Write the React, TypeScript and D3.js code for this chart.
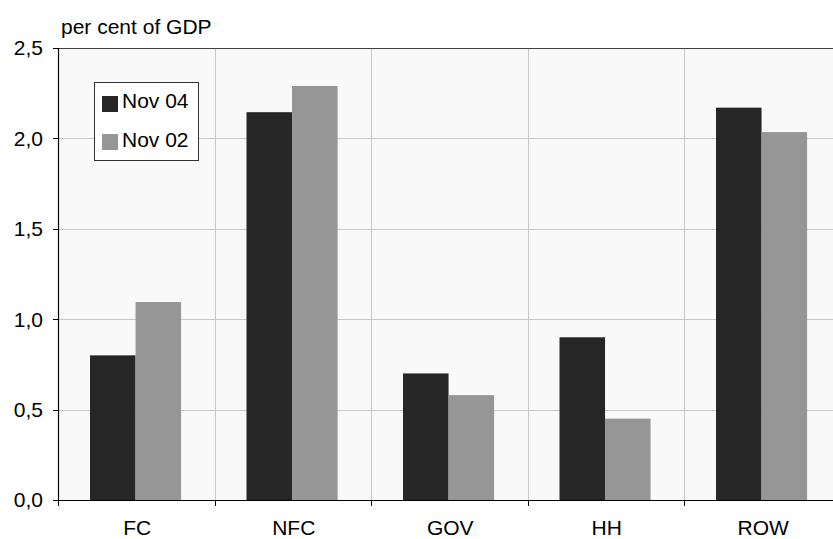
import React from "react";
import * as d3 from "d3";

const categories = ["FC", "NFC", "GOV", "HH", "ROW"];
const seriesNames = ["Nov 04", "Nov 02"];
const nov04 = [0.8, 2.145, 0.7, 0.9, 2.17];
const nov02 = [1.095, 2.29, 0.58, 0.45, 2.035];
const yTicks = [0, 0.5, 1.0, 1.5, 2.0, 2.5];
const colors = ["#262626", "#969696"];

const W = 833;
const H = 539;
const left = 58;
const top = 48;
const bottom = 500;
const catW = 156.5;

export default function App() {
  const x = d3.scaleBand<string>().domain(categories).range([left, left + catW * categories.length]).padding(0);
  const bw = x.bandwidth();
  const inner = d3.scaleBand<string>().domain(seriesNames).range([bw * 0.2045, bw * 0.7865]).padding(0);
  const y = d3.scaleLinear().domain([0, 2.5]).range([bottom, top]);
  const series = [nov04, nov02];
  const font = "'Liberation Sans', Arial, sans-serif";
  const fmt = (v: number) => v.toFixed(1).replace(".", ",");
  const boundaries = categories.map((c) => x(c) as number).concat([left + catW * categories.length]);
  const fs = 21;

  return (
    <svg width={W} height={H} style={{ position: "absolute", left: 0, top: 0 }} fontFamily={font}>
      <rect x={0} y={0} width={W} height={H} fill="#ffffff" />
      <rect x={left} y={top} width={W - left} height={bottom - top} fill="#f9f9f9" />
      {yTicks.slice(1, -1).map((t) => (
        <line key={"h" + t} x1={left} x2={W} y1={Math.round(y(t)) + 0.5} y2={Math.round(y(t)) + 0.5} stroke="#c8c8c8" strokeWidth={1} />
      ))}
      {boundaries.slice(1).map((b, i) => (
        <line key={"v" + i} x1={Math.round(b) + 0.5} x2={Math.round(b) + 0.5} y1={top} y2={bottom} stroke="#c8c8c8" strokeWidth={1} />
      ))}
      <line x1={left} x2={W} y1={top + 0.5} y2={top + 0.5} stroke="#404040" strokeWidth={1} />
      {categories.map((c, ci) =>
        series.map((s, si) => {
          const bx = (x(c) as number) + (inner(seriesNames[si]) as number);
          return (
            <rect key={c + si} x={bx} y={y(s[ci])} width={inner.bandwidth()} height={bottom - y(s[ci])} fill={colors[si]} />
          );
        })
      )}
      <line x1={left + 0.5} x2={left + 0.5} y1={top} y2={bottom} stroke="#000" strokeWidth={1.2} />
      <line x1={left - 5} x2={W} y1={bottom + 0.5} y2={bottom + 0.5} stroke="#000" strokeWidth={1.2} />
      {yTicks.map((t) => (
        <g key={"yt" + t}>
          <line x1={left - 5} x2={left} y1={Math.round(y(t)) + 0.5} y2={Math.round(y(t)) + 0.5} stroke="#000" />
          <text x={43} y={y(t)} dy="0.35em" textAnchor="end" fontSize={fs} fill="#000">
            {fmt(t)}
          </text>
        </g>
      ))}
      {boundaries.map((b, i) => (
        <line key={"xt" + i} x1={Math.round(b) + 0.5} x2={Math.round(b) + 0.5} y1={bottom} y2={bottom + 6} stroke="#000" />
      ))}
      {categories.map((c) => (
        <text key={"xl" + c} x={(x(c) as number) + bw / 2 + 1} y={535} textAnchor="middle" fontSize={fs} fill="#000">
          {c}
        </text>
      ))}
      <text x={61} y={34} fontSize={fs} fill="#000">per cent of GDP</text>
      <rect x={94.5} y={82.5} width={104} height={78} fill="#ffffff" stroke="#333" strokeWidth={1} />
      {seriesNames.map((n, i) => (
        <g key={"lg" + n}>
          <rect x={102} y={96 + i * 38} width={16} height={16} fill={colors[i]} />
          <text x={122} y={108 + i * 39} fontSize={fs} fill="#000">{n}</text>
        </g>
      ))}
    </svg>
  );
}
